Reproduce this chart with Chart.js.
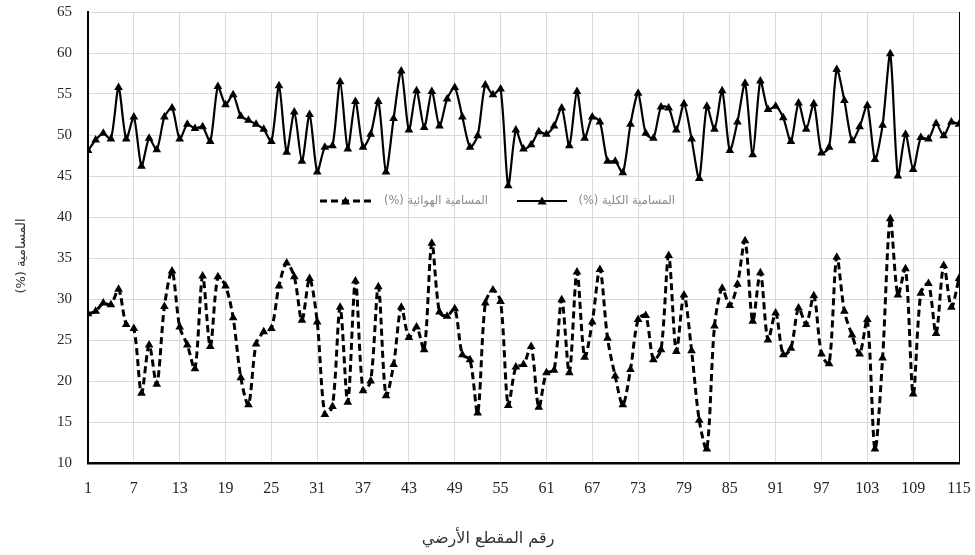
<!DOCTYPE html>
<html>
<head>
<meta charset="utf-8">
<script src="https://cdn.jsdelivr.net/npm/chart.js@4/dist/chart.umd.min.js"></script>
<style>
  html, body { margin: 0; padding: 0; background: #fff; }
  #wrap { width: 975px; height: 555px; position: relative; }
</style>
</head>
<body>
<div id="wrap"><canvas id="c" width="975" height="555"></canvas></div>
<script>
// Section numbers along the profile
const sections = Array.from({ length: 115 }, (_, i) => i + 1);
const xTicks = [1, 7, 13, 19, 25, 31, 37, 43, 49, 55, 61, 67, 73, 79, 85, 91, 97, 103, 109, 115];

// Total porosity (%)
const totalPorosity = [
  48.1, 49.4, 50.2, 49.5, 55.8, 49.5, 52.2, 46.2, 49.6, 48.2,
  52.2, 53.3, 49.5, 51.3, 50.8, 51.0, 49.2, 55.9, 53.7, 54.9,
  52.3, 51.8, 51.3, 50.7, 49.2, 56.0, 47.9, 52.8, 46.8, 52.5,
  45.5, 48.5, 48.7, 56.5, 48.3, 54.1, 48.5, 50.1, 54.1, 45.5,
  52.0, 57.8, 50.6, 55.4, 50.9, 55.3, 51.1, 54.4, 55.8, 52.2,
  48.5, 49.9, 56.1, 54.9, 55.6, 43.8, 50.6, 48.3, 48.8, 50.4,
  50.1, 51.1, 53.3, 48.7, 55.3, 49.6, 52.2, 51.6, 46.8, 46.8,
  45.4, 51.3, 55.1, 50.2, 49.6, 53.4, 53.3, 50.6, 53.8, 49.5,
  44.7, 53.5, 50.7, 55.4, 48.1, 51.6, 56.3, 47.6, 56.6, 53.1,
  53.5, 52.1, 49.2, 53.9, 50.7, 53.8, 47.8, 48.5, 58.0, 54.2,
  49.3, 51.0, 53.6, 47.0, 51.2, 59.9, 45.0, 50.1, 45.8, 49.7,
  49.5, 51.4, 49.9, 51.6, 51.3
];

// Air porosity (%)
const airPorosity = [
  28.2, 28.5, 29.5, 29.3, 31.2, 26.9, 26.4, 18.5, 24.4, 19.6,
  29.1, 33.4, 26.6, 24.4, 21.5, 32.8, 24.2, 32.7, 31.6, 27.7,
  20.4, 17.1, 24.5, 26.0, 26.4, 31.6, 34.4, 32.7, 27.4, 32.5,
  27.2, 15.9, 16.9, 29.0, 17.4, 32.2, 18.8, 20.0, 31.5, 18.2,
  22.0, 29.0, 25.3, 26.6, 23.8, 36.8, 28.4, 27.9, 28.8, 23.2,
  22.6, 16.1, 29.5, 31.1, 29.7, 17.0, 21.7, 22.0, 24.2, 16.8,
  21.0, 21.3, 29.9, 21.0, 33.3, 22.9, 27.2, 33.6, 25.2, 20.6,
  17.1, 21.4, 27.5, 28.0, 22.6, 23.8, 35.3, 23.6, 30.5, 23.7,
  15.2, 11.7, 26.7, 31.3, 29.2, 31.8, 37.1, 27.3, 33.2, 25.0,
  28.3, 23.2, 24.0, 28.9, 26.9, 30.4, 23.3, 22.1, 35.1, 28.5,
  25.6, 23.3, 27.5, 11.7, 22.8, 39.8, 30.5, 33.7, 18.4, 30.7,
  31.9, 25.8, 34.1, 29.0, 32.5
];

const seriesNames = ['المسامية الكلية (%)', 'المسامية الهوائية (%)'];
const xTitle = 'رقم المقطع الأرضي';
const yTitle = 'المسامية (%)';

const serif = '"Liberation Serif", "Times New Roman", "DejaVu Sans", serif';
const arabicFont = '"DejaVu Sans", "Liberation Serif", sans-serif';

// Legend drawn inside the plot area, plus both axis titles
const overlayPlugin = {
  id: 'overlay',
  afterDraw(chart) {
    const ctx = chart.ctx;
    const drawSample = (x0, x1, y, dash, width) => {
      ctx.save();
      ctx.strokeStyle = '#000';
      ctx.lineWidth = width;
      ctx.setLineDash(dash);
      ctx.beginPath();
      ctx.moveTo(x0, y);
      ctx.lineTo(x1, y);
      ctx.stroke();
      ctx.setLineDash([]);
      const cx = (x0 + x1) / 2, r = 4.5;
      ctx.fillStyle = '#000';
      ctx.beginPath();
      ctx.moveTo(cx, y - r);
      ctx.lineTo(cx + r, y + r * 0.8);
      ctx.lineTo(cx - r, y + r * 0.8);
      ctx.closePath();
      ctx.fill();
      ctx.restore();
    };
    const drawLabel = (text, xRight, y) => {
      ctx.save();
      ctx.font = '11.5px ' + arabicFont;
      ctx.fillStyle = '#8a8a8a';
      ctx.direction = 'rtl';
      ctx.textAlign = 'right';
      ctx.textBaseline = 'middle';
      ctx.fillText(text, xRight, y);
      ctx.restore();
    };
    const ly = 201;
    drawSample(320, 371, ly, [7, 4], 3);
    drawLabel(seriesNames[1], 488, ly);
    drawSample(517, 567, ly, [], 2);
    drawLabel(seriesNames[0], 675, ly);

    // Axis titles
    ctx.save();
    ctx.fillStyle = '#333';
    ctx.direction = 'rtl';
    ctx.textAlign = 'center';
    ctx.textBaseline = 'middle';
    ctx.font = '16px ' + arabicFont;
    ctx.fillText(xTitle, 488, 539);
    ctx.translate(22, 256);
    ctx.rotate(-Math.PI / 2);
    ctx.font = '13px ' + arabicFont;
    ctx.fillText(yTitle, 0, 0);
    ctx.restore();
  }
};

new Chart(document.getElementById('c'), {
  type: 'line',
  data: {
    labels: sections,
    datasets: [
      {
        label: seriesNames[0],
        data: totalPorosity,
        borderColor: '#000',
        backgroundColor: '#000',
        borderWidth: 2.2,
        pointStyle: 'triangle',
        pointRadius: 5,
        pointBorderWidth: 0,
        pointBackgroundColor: '#000',
        tension: 0.25
      },
      {
        label: seriesNames[1],
        data: airPorosity,
        borderColor: '#000',
        backgroundColor: '#000',
        borderWidth: 3,
        borderDash: [7, 4],
        pointStyle: 'triangle',
        pointRadius: 5,
        pointBorderWidth: 0,
        pointBackgroundColor: '#000',
        tension: 0.3
      }
    ]
  },
  options: {
    responsive: false,
    animation: false,
    layout: { padding: { top: 12, right: 16, left: 0, bottom: 0 } },
    plugins: {
      legend: { display: false },
      tooltip: { enabled: false }
    },
    scales: {
      x: {
        type: 'linear',
        min: 1,
        max: 115,
        afterBuildTicks(scale) {
          scale.ticks = xTicks.map(v => ({ value: v }));
        },
        afterFit(scale) {
          scale.height = 92;
          scale.paddingLeft = 0;
          scale.paddingRight = 0;
        },
        ticks: {
          autoSkip: false,
          maxRotation: 0,
          padding: 16,
          color: '#262626',
          font: { family: serif, size: 16 }
        },
        grid: {
          drawTicks: false,
          color: ctx => (ctx.tick && ctx.tick.value === 115 ? '#000' : '#d9d9d9'),
          lineWidth: 1
        },
        border: { color: '#000', width: 2.5 }
      },
      y: {
        min: 10,
        max: 65,
        afterFit(scale) {
          scale.width = 88;
          scale.paddingTop = 0;
          scale.paddingBottom = 0;
        },
        ticks: {
          stepSize: 5,
          padding: 16,
          color: '#262626',
          font: { family: serif, size: 15 }
        },
        grid: {
          drawTicks: false,
          color: '#d9d9d9',
          lineWidth: 1
        },
        border: { color: '#000', width: 2 }
      }
    }
  },
  plugins: [overlayPlugin]
});
</script>
</body>
</html>
